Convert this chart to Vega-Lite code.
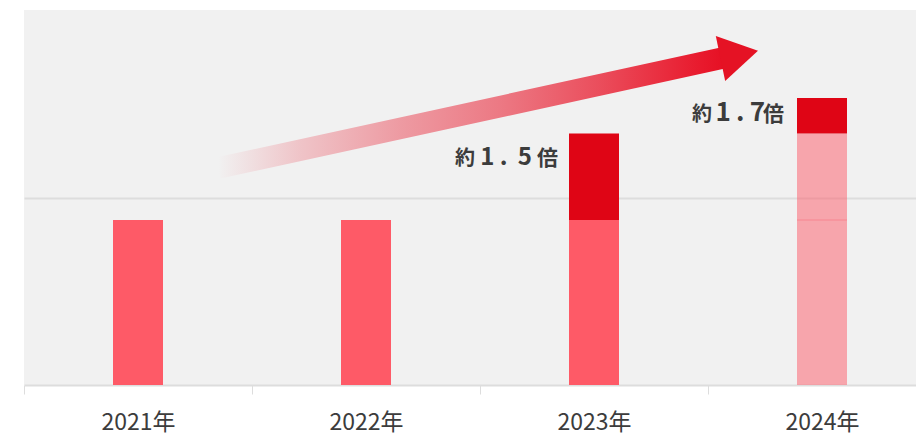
{
  "$schema": "https://vega.github.io/schema/vega-lite/v6.json",
  "width": 892,
  "height": 375,
  "autosize": "none",
  "padding": {"left": 24, "top": 10, "right": 0, "bottom": 50},
  "background": "#ffffff",
  "view": {"fill": "#f1f1f1", "stroke": null},
  "config": {"font": "Noto Sans CJK JP"},
  "datasets": {
    "bars": [
      {"year": "2021年", "kind": "solid", "seq": 1, "value": 88},
      {"year": "2022年", "kind": "solid", "seq": 1, "value": 88},
      {"year": "2023年", "kind": "solid", "seq": 1, "value": 88},
      {"year": "2023年", "kind": "increase", "seq": 2, "value": 46.1},
      {"year": "2024年", "kind": "pale", "seq": 1, "value": 88},
      {"year": "2024年", "kind": "pale", "seq": 2, "value": 46.1},
      {"year": "2024年", "kind": "increase", "seq": 3, "value": 19}
    ],
    "notes": [
      {"year": "2023年", "top": 134.1, "pre": "約", "num": "1 .\u2009 5", "suf": "倍"},
      {"year": "2024年", "top": 153.1, "pre": "約", "num": "1\u2009.\u20097", "suf": "倍"}
    ],
    "divider": [
      {"year": "2024年", "level": 88}
    ],
    "shaft": [
      {"u": 0.851, "v": 115.7},
      {"u": 3.07, "v": 174.5}
    ],
    "head": [
      {"u": 3.137, "v": 176.2}
    ]
  },
  "layer": [
    {
      "layer": [
        {
          "data": {"name": "bars"},
          "mark": {"type": "bar", "size": 50},
          "encoding": {
            "x": {
              "field": "year", "type": "nominal",
              "scale": {"domain": ["2021年", "2022年", "2023年", "2024年"], "range": [0, 912], "paddingInner": 0, "paddingOuter": 0},
              "axis": {
                "title": null, "labelAngle": 0, "labelFontSize": 23, "labelColor": "#3c3c3c",
                "labelFont": "Noto Sans CJK JP", "labelPadding": 17,
                "domainColor": "#dddddd", "domainWidth": 2,
                "tickColor": "#dddddd", "tickSize": 9, "tickWidth": 1, "tickBand": "extent"
              }
            },
            "y": {
              "field": "value", "type": "quantitative", "stack": "zero",
              "scale": {"domain": [0, 200]},
              "axis": {
                "title": null, "values": [100], "labels": false, "ticks": false, "domain": false,
                "grid": true, "gridColor": "#dddddd", "gridWidth": 2
              }
            },
            "order": {"field": "seq", "type": "quantitative"},
            "color": {
              "field": "kind", "type": "nominal", "legend": null,
              "scale": {"domain": ["solid", "pale", "increase"], "range": ["#fe5a67", "#fe5a67", "#df0515"]}
            },
            "opacity": {
              "condition": {"test": "datum.kind === 'pale'", "value": 0.5},
              "value": 1
            }
          }
        },
        {
          "data": {"name": "divider"},
          "mark": {"type": "tick", "orient": "horizontal", "size": 50, "thickness": 1, "color": "#f7858f", "opacity": 1},
          "encoding": {
            "x": {"field": "year", "type": "nominal"},
            "y": {"field": "level", "type": "quantitative"}
          }
        },
        {
          "data": {"name": "notes"},
          "transform": [{"filter": "datum.year === '2023年'"}],
          "mark": {"type": "text", "align": "right", "baseline": "alphabetic", "dx": -36, "dy": 31.5, "fontSize": 21, "fontWeight": "bold", "color": "#3c3c3c"},
          "encoding": {
            "x": {"field": "year", "type": "nominal"},
            "y": {"field": "top", "type": "quantitative"},
            "text": {"field": "suf"}
          }
        },
        {
          "data": {"name": "notes"},
          "transform": [{"filter": "datum.year === '2023年'"}],
          "mark": {"type": "text", "align": "right", "baseline": "alphabetic", "dx": -62, "dy": 31.5, "fontSize": 24, "fontWeight": "bold", "color": "#3c3c3c"},
          "encoding": {
            "x": {"field": "year", "type": "nominal"},
            "y": {"field": "top", "type": "quantitative"},
            "text": {"field": "num"}
          }
        },
        {
          "data": {"name": "notes"},
          "transform": [{"filter": "datum.year === '2023年'"}],
          "mark": {"type": "text", "align": "right", "baseline": "alphabetic", "dx": -119, "dy": 31.5, "fontSize": 20, "fontWeight": "bold", "color": "#3c3c3c"},
          "encoding": {
            "x": {"field": "year", "type": "nominal"},
            "y": {"field": "top", "type": "quantitative"},
            "text": {"field": "pre"}
          }
        },
        {
          "data": {"name": "notes"},
          "transform": [{"filter": "datum.year === '2024年'"}],
          "mark": {"type": "text", "align": "right", "baseline": "alphabetic", "dx": -38, "dy": 23, "fontSize": 21, "fontWeight": "bold", "color": "#3c3c3c"},
          "encoding": {
            "x": {"field": "year", "type": "nominal"},
            "y": {"field": "top", "type": "quantitative"},
            "text": {"field": "suf"}
          }
        },
        {
          "data": {"name": "notes"},
          "transform": [{"filter": "datum.year === '2024年'"}],
          "mark": {"type": "text", "align": "right", "baseline": "alphabetic", "dx": -57, "dy": 23, "fontSize": 26, "fontWeight": "bold", "color": "#3c3c3c"},
          "encoding": {
            "x": {"field": "year", "type": "nominal"},
            "y": {"field": "top", "type": "quantitative"},
            "text": {"field": "num"}
          }
        },
        {
          "data": {"name": "notes"},
          "transform": [{"filter": "datum.year === '2024年'"}],
          "mark": {"type": "text", "align": "right", "baseline": "alphabetic", "dx": -110, "dy": 23, "fontSize": 20, "fontWeight": "bold", "color": "#3c3c3c"},
          "encoding": {
            "x": {"field": "year", "type": "nominal"},
            "y": {"field": "top", "type": "quantitative"},
            "text": {"field": "pre"}
          }
        }
      ]
    },
    {
      "layer": [
        {
          "data": {"name": "shaft"},
          "mark": {
            "type": "line", "strokeWidth": 21.5, "strokeCap": "butt",
            "color": {
              "gradient": "linear", "x1": 0, "y1": 0, "x2": 1, "y2": 0,
              "stops": [
                {"offset": 0, "color": "rgba(232,18,38,0)"},
                {"offset": 0.16, "color": "rgba(232,18,38,0.2)"},
                {"offset": 0.36, "color": "rgba(232,18,38,0.39)"},
                {"offset": 0.56, "color": "rgba(232,18,38,0.54)"},
                {"offset": 0.75, "color": "rgba(232,18,38,0.73)"},
                {"offset": 0.95, "color": "rgba(232,18,38,0.96)"},
                {"offset": 1, "color": "rgba(230,16,36,1)"}
              ]
            }
          },
          "encoding": {
            "x": {"field": "u", "type": "quantitative", "scale": {"domain": [0, 4], "range": [0, 912], "nice": false, "zero": false}, "axis": null},
            "y": {"field": "v", "type": "quantitative"}
          }
        },
        {
          "data": {"name": "head"},
          "mark": {"type": "point", "shape": "M1,0L-1,-1.2L-1,1.2Z", "size": 1467, "angle": 348.25, "filled": true, "color": "#e51224", "opacity": 1, "strokeWidth": 0},
          "encoding": {
            "x": {"field": "u", "type": "quantitative"},
            "y": {"field": "v", "type": "quantitative"}
          }
        }
      ]
    }
  ],
  "resolve": {"scale": {"x": "independent"}}
}
